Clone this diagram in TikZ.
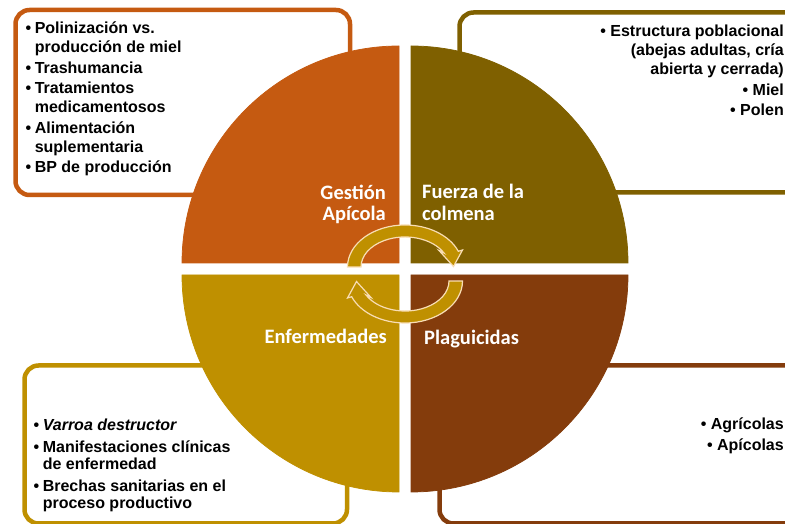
\documentclass[tikz,border=0pt]{standalone}
\usepackage{fontspec}
\setmainfont{Liberation Sans}
\newfontfamily\calib{Carlito}
\definecolor{gestion}{HTML}{C55A11}
\definecolor{fuerza}{HTML}{7F6000}
\definecolor{enferm}{HTML}{BF9000}
\definecolor{plagui}{HTML}{843C0C}
\definecolor{borde}{HTML}{F8DDB4}
\tikzset{
  marco/.style={line width=4.5pt, rounded corners=14pt, fill=white},
  cuadrante/.style={draw=white, line width=0.75pt},
  flecha/.style={fill=enferm, draw=borde, line width=1.2pt},
  lista/.style={inner sep=0pt, font=\fontsize{16}{19}\selectfont\bfseries},
  titulo/.style={inner sep=0pt, text=white, font=\calib\fontsize{20.5}{21.4}\selectfont\bfseries},
}
\begin{document}
\begin{tikzpicture}[x=1pt, y=1pt]
\clip (0,0) rectangle (785,524);

%marcos de texto
\draw[marco, draw=gestion] (15.5,514) rectangle (350,329);
\draw[marco, draw=fuerza] (459.5,511.5) rectangle (830,331.5);
\draw[marco, draw=enferm] (24.5,158.5) rectangle (347,0.5);
\draw[marco, draw=plagui] (439.5,158.5) rectangle (830,0.5);

%circulo en cuatro partes
\fill[cuadrante, gestion] (399,261) -- (182,261) arc[start angle=180, end angle=90, radius=217] -- cycle;
\fill[cuadrante, fuerza] (411,261) -- (411,478) arc[start angle=90, end angle=0, radius=217] -- cycle;
\fill[cuadrante, enferm] (399,249) -- (182,249) arc[start angle=180, end angle=270, radius=217] -- cycle;
\fill[cuadrante, plagui] (411,249) -- (628,249) arc[start angle=0, end angle=-90, radius=217] -- cycle;

%flechas del ciclo
\foreach \ang in {0,180}
{ \filldraw[flecha, rotate around={\ang:(405,250)}] (347.5,257)
    arc[start angle=180, end angle=22, x radius=57.5, y radius=42]
    -- (462.5,274) -- (453.5,257.5) -- (439,273.5) -- (443.85,271.1)
    arc[start angle=28, end angle=180, x radius=44, y radius=30] -- cycle; }

%titulos
\node[titulo, anchor=base east] (gest) at (386,324.7)
  {\begin{tabular}[t]{@{}r@{}}Gestión\\Apícola\end{tabular}};
\node[titulo, anchor=base west] (fuer) at (422,325)
  {\begin{tabular}[t]{@{}l@{}}Fuerza de la\\colmena\end{tabular}};
\node[titulo, anchor=base east] (enfe) at (387,180.7) {Enfermedades};
\node[titulo, anchor=base west] (plag) at (424,179) {Plaguicidas};

%listas
\node[lista, anchor=base west] (gestlista) at (25.5,490)
  {\begin{tabular}[t]{@{}l@{\hspace{3.5pt}}l@{}}
  \textbullet & Polinización vs.\\
              & producción de miel\\[1.5pt]
  \textbullet & Trashumancia\\[1.5pt]
  \textbullet & Tratamientos\\
              & medicamentosos\\[1.5pt]
  \textbullet & Alimentación\\
              & suplementaria\\[1.5pt]
  \textbullet & BP de producción
  \end{tabular}};
\node[lista, anchor=base east] (fuerlista) at (784,487)
  {\begin{tabular}[t]{@{}r@{}}
  \textbullet\ Estructura poblacional\\
  (abejas adultas, cría\\
  abierta y cerrada)\\[1.5pt]
  \textbullet\ Miel\\[1.5pt]
  \textbullet\ Polen
  \end{tabular}};
\node[lista, font=\fontsize{16}{17.5}\selectfont\bfseries, anchor=base west] (enfelista) at (33.5,93)
  {\begin{tabular}[t]{@{}l@{\hspace{3.5pt}}l@{}}
  \textbullet & \textit{Varroa destructor}\\[4pt]
  \textbullet & Manifestaciones clínicas\\
              & de enfermedad\\[4pt]
  \textbullet & Brechas sanitarias en el\\
              & proceso productivo
  \end{tabular}};
\node[lista, font=\fontsize{16}{21}\selectfont\bfseries, anchor=base east] (plaglista) at (784,94)
  {\begin{tabular}[t]{@{}r@{}}
  \textbullet\ Agrícolas\\
  \textbullet\ Apícolas
  \end{tabular}};
\end{tikzpicture}
\end{document}
